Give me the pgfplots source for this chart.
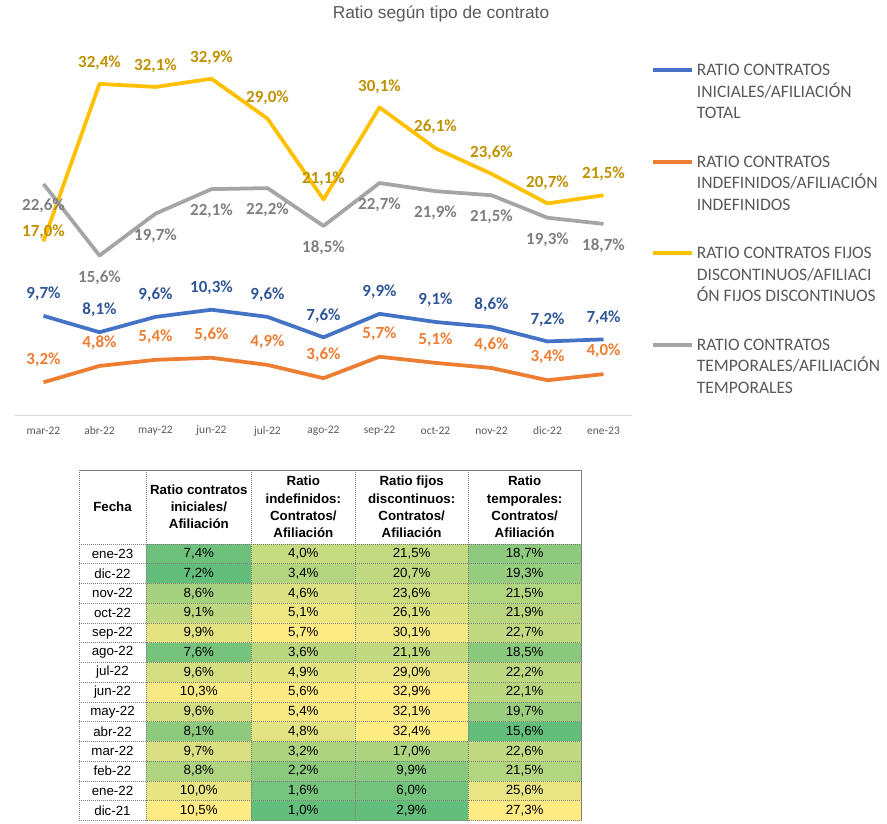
\documentclass[border=0pt]{standalone}
\usepackage{fontspec}
\setmainfont{Carlito}
\newfontfamily\arial{Liberation Sans}
\usepackage{pgfplots}
\usepackage{pgfplotstable}
\pgfplotsset{compat=1.18}

\definecolor{serblue}{HTML}{4472C4}
\definecolor{serorange}{HTML}{ED7D31}
\definecolor{seryellow}{HTML}{FFC000}
\definecolor{sergray}{HTML}{A5A5A5}
\definecolor{lblblue}{HTML}{2F5597}
\definecolor{lblorange}{HTML}{ED7D31}
\definecolor{lblyellow}{HTML}{BF9000}
\definecolor{lblgray}{HTML}{7F7F7F}
\definecolor{txtgray}{HTML}{595959}
\definecolor{axgray}{HTML}{D9D9D9}
\definecolor{gridgray}{HTML}{7F7F7F}
\definecolor{cgreen}{RGB}{99,190,123}
\definecolor{cyellow}{RGB}{255,235,132}

% cell marks for the coloured table (column width x row height)
\pgfdeclareplotmark{cellA}{\pgfpathrectangle{\pgfpoint{-53.1pt}{-10pt}}{\pgfpoint{106.2pt}{20pt}}\pgfusepathqfill}
\pgfdeclareplotmark{cellB}{\pgfpathrectangle{\pgfpoint{-51.9pt}{-10pt}}{\pgfpoint{103.8pt}{20pt}}\pgfusepathqfill}
\pgfdeclareplotmark{cellC}{\pgfpathrectangle{\pgfpoint{-56.9pt}{-10pt}}{\pgfpoint{113.8pt}{20pt}}\pgfusepathqfill}
\pgfdeclareplotmark{cellD}{\pgfpathrectangle{\pgfpoint{-56.6pt}{-10pt}}{\pgfpoint{113.2pt}{20pt}}\pgfusepathqfill}

% line chart: mar-22 .. ene-23
\pgfplotstableread{
x  ini   indef fijos temp fdy
0  9.7   3.2   17.0  22.6 9
1  8.1   4.8   32.4  15.6 21
2  9.6   5.4   32.1  19.7 21
3  10.3  5.6   32.9  22.1 21
4  9.6   4.9   29.0  22.2 21
5  7.6   3.6   21.1  18.5 21
6  9.9   5.7   30.1  22.7 21
7  9.1   5.1   26.1  21.9 21
8  8.6   4.6   23.6  21.5 21
9  7.2   3.4   20.7  19.3 21
10 7.4   4.0   21.5  18.7 21
}\chartdata

% table below the chart, top row first
\pgfplotstableread{
y    fecha   c1    c2   c3    c4
0    ene-23  7.4   4.0  21.5  18.7
-1   dic-22  7.2   3.4  20.7  19.3
-2   nov-22  8.6   4.6  23.6  21.5
-3   oct-22  9.1   5.1  26.1  21.9
-4   sep-22  9.9   5.7  30.1  22.7
-5   ago-22  7.6   3.6  21.1  18.5
-6   jul-22  9.6   4.9  29.0  22.2
-7   jun-22  10.3  5.6  32.9  22.1
-8   may-22  9.6   5.4  32.1  19.7
-9   abr-22  8.1   4.8  32.4  15.6
-10  mar-22  9.7   3.2  17.0  22.6
-11  feb-22  8.8   2.2  9.9   21.5
-12  ene-22  10.0  1.6  6.0   25.6
-13  dic-21  10.5  1.0  2.9   27.3
}\tabdata

\pgfplotsset{
    tablegeom/.style={
        at={(79pt,-820.5pt)}, anchor=south west,
        x=1pt, y=19.75pt,
        xmin=79, xmax=581, ymin=-13.5, ymax=4.247,
        clip=false,
    },
    % one axis per column, so each column has its own green-to-yellow scale
    cellaxis/.style={tablegeom, hide axis, colormap={gy}{color=(cgreen) color=(cyellow)}},
    cellfill/.style={scatter, only marks, point meta=explicit},
    celltext/.style={draw=none, point meta=explicit,
        nodes near coords={\pgfmathprintnumber[fixed,fixed zerofill,precision=1,use comma,assume math mode=true]{\pgfplotspointmeta}\%}},
}

\begin{document}
\begin{tikzpicture}
\useasboundingbox (0,0) rectangle (887pt,-824pt);

\node[font=\arial\fontsize{17.3}{18}\selectfont, text=txtgray] at (441pt,-14pt) {Ratio según tipo de contrato};

\begin{axis}[
    at={(15.5pt,-415pt)}, anchor=south west,
    x=56pt, y=10.22pt,
    xmin=-0.5, xmax=10.5, ymin=0, ymax=36,
    axis x line=bottom, axis y line=none,
    x axis line style={-, axgray, line width=1pt},
    xtick={0,...,10},
    xticklabels={mar-22,abr-22,may-22,jun-22,jul-22,ago-22,sep-22,oct-22,nov-22,dic-22,ene-23},
    major tick length=0pt,
    xticklabel style={anchor=center, yshift=-16pt, font=\fontsize{11.5}{12}\selectfont, text=txtgray},
    clip=false,
    nodes near coords={\pgfmathprintnumber[fixed,fixed zerofill,precision=1,use comma,assume math mode=true]{\pgfplotspointmeta}\%},
    every node near coord/.append style={anchor=center, inner sep=0pt, font=\bfseries\fontsize{17}{17}\selectfont},
    legend style={at={(axis description cs:1.0317,0.9620)}, anchor=north west,
        draw=none, fill=none, inner sep=0pt, outer sep=0pt,
        row sep=74.7pt, column sep=0pt,
        font=\fontsize{17.5}{21.3}\selectfont, text=txtgray,
        cells={anchor=base west}, nodes={inner sep=0pt}},
    legend image code/.code={\draw[#1, line width=4pt] (0pt,5.6pt) -- (39pt,5.6pt); \path (42pt,0pt);},
]
\addplot[serblue, line width=3.75pt, line join=round,
    every node near coord/.append style={text=lblblue, yshift=22pt}]
    table[x=x, y=ini] {\chartdata};
\addlegendentry{\begin{tabular}[t]{@{}l@{}}RATIO CONTRATOS\\INICIALES/AFILIACIÓN\\TOTAL\end{tabular}}
\addplot[serorange, line width=3.75pt, line join=round,
    every node near coord/.append style={text=lblorange, yshift=23pt}]
    table[x=x, y=indef] {\chartdata};
\addlegendentry{\begin{tabular}[t]{@{}l@{}}RATIO CONTRATOS\\INDEFINIDOS/AFILIACIÓN\\INDEFINIDOS\end{tabular}}
\addplot[seryellow, line width=3.75pt, line join=round,
    visualization depends on={\thisrow{fdy}\as\fdy},
    every node near coord/.append style={text=lblyellow, yshift=\fdy pt}]
    table[x=x, y=fijos] {\chartdata};
\addlegendentry{\begin{tabular}[t]{@{}l@{}}RATIO CONTRATOS FIJOS\\DISCONTINUOS/AFILIACI\\ÓN FIJOS DISCONTINUOS\end{tabular}}
\addplot[sergray, line width=3.75pt, line join=round,
    every node near coord/.append style={text=lblgray, yshift=-22pt}]
    table[x=x, y=temp] {\chartdata};
\addlegendentry{\begin{tabular}[t]{@{}l@{}}RATIO CONTRATOS\\TEMPORALES/AFILIACIÓN\\TEMPORALES\end{tabular}}
\end{axis}

% coloured cells, one column per axis
\begin{axis}[cellaxis]
\addplot[cellfill, mark=cellA] table[x expr=198.85, y=y, meta=c1] {\tabdata};
\end{axis}
\begin{axis}[cellaxis]
\addplot[cellfill, mark=cellB] table[x expr=303.35, y=y, meta=c2] {\tabdata};
\end{axis}
\begin{axis}[cellaxis]
\addplot[cellfill, mark=cellC] table[x expr=411.65, y=y, meta=c3] {\tabdata};
\end{axis}
\begin{axis}[cellaxis]
\addplot[cellfill, mark=cellD] table[x expr=524.65, y=y, meta=c4] {\tabdata};
\end{axis}

% grid, cell texts, dates and headers on top
\begin{axis}[
    tablegeom,
    xtick={79,146,251.7,355,468.3,581},
    ytick={-13.5,-12.5,...,0.5,4.247},
    xticklabels={}, yticklabels={}, major tick length=0pt,
    grid=major,
    major grid style={gridgray, line width=0.6pt, dash pattern=on 0.8pt off 1.2pt},
    axis line style={gridgray, line width=0.6pt, dash pattern=on 0.8pt off 1.2pt},
    every node near coord/.append style={anchor=center, inner sep=0pt, text=black,
        font=\arial\fontsize{13.3}{16}\selectfont},
]
\addplot[celltext] table[x expr=198.85, y=y, meta=c1] {\tabdata};
\addplot[celltext] table[x expr=303.35, y=y, meta=c2] {\tabdata};
\addplot[celltext] table[x expr=411.65, y=y, meta=c3] {\tabdata};
\addplot[celltext] table[x expr=524.65, y=y, meta=c4] {\tabdata};
\addplot[draw=none, nodes near coords, point meta=explicit symbolic]
    table[x expr=112.5, y=y, meta=fecha] {\tabdata};

\begin{scope}[font=\arial\bfseries\fontsize{13.3}{17.2}\selectfont, align=center]
\node at (axis cs:112.5,2.373) {Fecha};
\node at (axis cs:198.85,2.373) {Ratio contratos\\iniciales/\\Afiliación};
\node at (axis cs:303.35,2.373) {Ratio\\indefinidos:\\Contratos/\\Afiliación};
\node at (axis cs:411.65,2.373) {Ratio fijos\\discontinuos:\\Contratos/\\Afiliación};
\node at (axis cs:524.65,2.373) {Ratio\\temporales:\\Contratos/\\Afiliación};
\end{scope}
\end{axis}
\end{tikzpicture}
\end{document}
